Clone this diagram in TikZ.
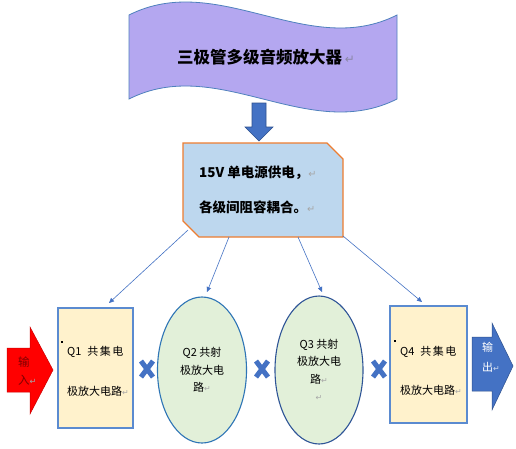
\documentclass[tikz,border=0pt]{standalone}
\usepackage{fontspec}
\usepackage{graphicx}
\setmainfont{Noto Sans CJK SC}
\newfontfamily\symfont{DejaVu Sans}
\usetikzlibrary{shapes.geometric,arrows.meta,calc}
\definecolor{banfill}{HTML}{B4A7F0}
\definecolor{banline}{HTML}{4F81BD}
\definecolor{accblue}{HTML}{4472C4}
\definecolor{darkblue}{HTML}{2F528F}
\definecolor{boxfill}{HTML}{BDD7EE}
\definecolor{boxline}{HTML}{ED7D31}
\definecolor{qfill}{HTML}{FFF2CC}
\definecolor{qline}{HTML}{5B8BD0}
\definecolor{efill}{HTML}{E2F0D9}
\definecolor{eline}{HTML}{2E75B6}
\definecolor{elinedark}{HTML}{2F5597}
\definecolor{retgray}{HTML}{A6A6A6}
\definecolor{titlegray}{HTML}{8A86A6}
\definecolor{intext}{HTML}{7F0000}
\newcommand\retmark[1][retgray]{{\symfont\mdseries\color{#1}\scalebox{0.72}{↵}}}
\begin{document}
\begin{tikzpicture}[x=1pt,y=-1pt,
  conn/.style={draw=accblue, line width=0.6pt, -{Triangle[length=5pt,width=4.5pt]}},
  qbox/.style={draw=qline, fill=qfill, line width=1.1pt, rectangle, inner sep=0pt},
  ell/.style={ellipse, fill=efill, line width=1.1pt, align=center, inner sep=0pt,
              font=\fontsize{11}{17.3}\selectfont},
  qtxt/.style={anchor=west, inner sep=0pt, font=\fontsize{11}{13}\selectfont},
  ptxt/.style={anchor=west, inner sep=0pt, font=\bfseries\fontsize{13.5}{15}\selectfont},
  xmark/.style={draw=accblue, line width=5pt},
  smallsq/.style={fill=black, inner sep=0pt, minimum size=2.5pt}]
\useasboundingbox (0,0) rectangle (516,448);
\fill[white] (0,0) rectangle (516,448);

% banner
\draw[fill=banfill, draw=banline, line width=0.8pt]
  (129,15) .. controls (218,-30) and (308,60) .. (397,15) -- (397,99)
  .. controls (308,144) and (218,54) .. (129,99) -- cycle;
\node[anchor=west, inner sep=0pt, font=\bfseries\fontsize{16.5}{18}\selectfont] (title) at (177,57) {三极管多级音频放大器\,\retmark[titlegray]};

% down arrow
\draw[fill=accblue, draw=darkblue, line width=0.6pt]
  (252,103) -- (266,103) -- (266,127) -- (273,127) -- (259,141) -- (245,127) -- (252,127) -- cycle;

% power box
\draw[fill=boxfill, draw=boxline, line width=1.2pt]
  (183,143) -- (327,143) -- (343,159) -- (343,237) -- (199,237) -- (183,221) -- cycle;
\node[ptxt] (p1) at (199,173) {15V 单电源供电，\retmark};
\node[ptxt] (p2) at (199,207) {各级间阻容耦合。\retmark};

% stages
\node[qbox, minimum width=75pt, minimum height=120pt] (q1) at (95.5,368) {};
\node[smallsq] (sq1) at (62,342) {};
\node[qtxt] (q1a) at (67,352) {Q1\hspace{6pt}共\hspace{1.5pt}集\hspace{1.5pt}电};
\node[qtxt] (q1b) at (67,391) {极放大电路\retmark};

\node[ell, draw=eline, minimum width=89pt, minimum height=146pt] (q2) at (202,370) {Q2 共射\\极放大电\\路\retmark};
\node[ell, draw=elinedark, minimum width=88pt, minimum height=148pt] (q3) at (319,370) {Q3 共射\\极放大电\\路\retmark\\\retmark};

\node[qbox, minimum width=77pt, minimum height=117pt] (q4) at (428.5,364.5) {};
\node[smallsq] (sq4) at (395,341) {};
\node[qtxt] (q4a) at (400,352) {Q4\hspace{6pt}共\hspace{1.5pt}集\hspace{1.5pt}电};
\node[qtxt] (q4b) at (400,390) {极放大电路\retmark};

% couplings
\foreach \cx/\nm in {147/x1,262/x2,379/x3}{
  \coordinate (\nm) at (\cx,369);
  \draw[xmark] ($(\nm)+(-6,-8)$) -- ($(\nm)+(6,8)$);
  \draw[xmark] ($(\nm)+(6,-8)$) -- ($(\nm)+(-6,8)$);
}

% connectors
\coordinate (s1) at (188,230);
\coordinate (s2) at (229,237);
\coordinate (s3) at (298,237);
\coordinate (s4) at (343,236);
\coordinate (e1) at (109,303);
\coordinate (e2) at (207,292);
\coordinate (e3) at (322,292);
\coordinate (e4) at (422,302);
\draw[conn] (s1) -- (e1);
\draw[conn] (s2) -- (e2);
\draw[conn] (s3) -- (e3);
\draw[conn] (s4) -- (e4);

% input arrow
\draw[fill=red, draw=red!80!black, line width=0.5pt]
  (7,348) -- (30,348) -- (30,327) -- (53,370) -- (30,414) -- (30,392) -- (7,392) -- cycle;
\node[anchor=west, inner sep=0pt, text=intext, font=\fontsize{11.5}{13}\selectfont] (in1) at (18,362) {输};
\node[anchor=west, inner sep=0pt, text=intext, font=\fontsize{11.5}{13}\selectfont] (in2) at (18,380) {入\retmark};

% output arrow
\draw[fill=accblue, draw=darkblue, line width=0.5pt]
  (472,337) -- (492,337) -- (492,323) -- (513,366) -- (492,410) -- (492,391) -- (472,391) -- cycle;
\node[anchor=west, inner sep=0pt, text=white, font=\fontsize{11}{13}\selectfont] (out1) at (482,347) {输};
\node[anchor=west, inner sep=0pt, text=white, font=\fontsize{11}{13}\selectfont] (out2) at (482,367) {出\retmark[white!75!accblue]};
\end{tikzpicture}
\end{document}
